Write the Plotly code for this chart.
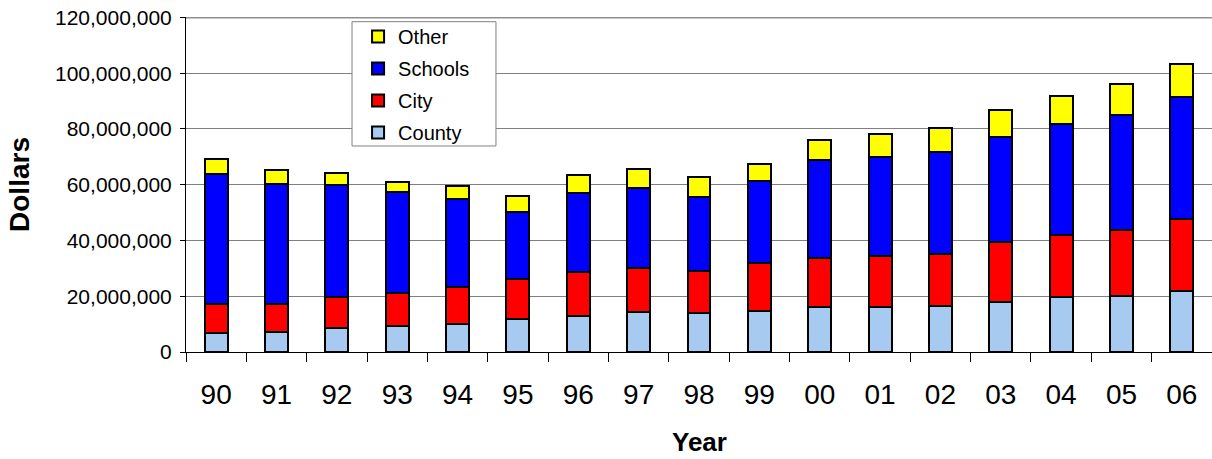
import plotly.graph_objects as go

years = ["90", "91", "92", "93", "94", "95", "96", "97", "98", "99",
         "00", "01", "02", "03", "04", "05", "06"]
county = [6.7, 7.3, 8.5, 9.3, 10.0, 11.8, 12.9, 14.4, 13.9, 14.8,
          16.1, 16.1, 16.6, 18.1, 19.6, 20.2, 22.0]
city = [10.4, 9.9, 11.1, 11.7, 13.4, 14.3, 15.9, 15.8, 15.1, 17.0,
        17.7, 18.3, 18.7, 21.4, 22.2, 23.6, 25.6]
schools = [46.9, 43.0, 40.4, 36.4, 31.4, 24.0, 28.3, 28.7, 26.6, 29.4,
           34.9, 35.5, 36.5, 37.6, 39.8, 41.3, 43.9]
other = [5.1, 5.0, 4.3, 3.6, 4.8, 5.9, 6.5, 6.8, 7.1, 6.4,
         7.3, 8.3, 8.5, 9.6, 10.1, 10.9, 11.9]
y_ticks = [0, 20e6, 40e6, 60e6, 80e6, 100e6, 120e6]

series = [
    ("County", county, "#A6CAF0", 4),
    ("City", city, "#FF0000", 3),
    ("Schools", schools, "#0000FF", 2),
    ("Other", other, "#FFFF00", 1),
]

fig = go.Figure()
for name, vals, color, rank in series:
    fig.add_trace(go.Bar(
        x=years, y=[v * 1e6 for v in vals], name=name, legendgroup=name,
        legendrank=rank,
        marker=dict(color=color, line=dict(color="black", width=2)),
    ))

# top gridline (Plotly drops the grid line at the range edge)
fig.add_shape(type="line", xref="paper", yref="y",
              x0=0, x1=1, y0=y_ticks[-1], y1=y_ticks[-1],
              line=dict(color="#909090", width=2), layer="below")

# legend frame (wider than Plotly's auto-sized legend box)
fig.add_shape(type="rect", xref="paper", yref="paper",
              x0=0.1618, x1=0.3021, y0=0.615, y1=0.986,
              line=dict(color="#808080", width=1), fillcolor="white",
              layer="above")

# x-axis title placed below the tick labels
fig.add_annotation(text="<b>Year</b>", xref="paper", yref="paper",
                   x=0.5, y=-0.2687, xanchor="center", yanchor="middle",
                   showarrow=False, font=dict(size=26))

fig.update_layout(
    barmode="stack",
    bargap=0.62,
    width=1212, height=459,
    margin=dict(l=186, r=0, t=17, b=107, autoexpand=False),
    paper_bgcolor="white", plot_bgcolor="white",
    font=dict(family="Arial, Liberation Sans, sans-serif", color="black"),
    showlegend=True,
    legend=dict(
        x=0.1677, y=1.0, xanchor="left", yanchor="top",
        traceorder="grouped", tracegroupgap=3,
        borderwidth=0, bgcolor="rgba(0,0,0,0)",
        font=dict(size=20), itemwidth=30,
    ),
)
fig.update_yaxes(
    automargin=False,
    range=[0, 120.15e6], tickvals=y_ticks,
    tickformat=",", ticklabeloverflow="allow",
    showgrid=True, gridcolor="#808080", gridwidth=1,
    showline=True, linecolor="black", linewidth=1,
    ticks="outside", ticklen=5, tickcolor="black",
    tickfont=dict(size=21), ticklabelstandoff=4,
    zeroline=False,
    title=dict(text="<b>Dollars</b>", font=dict(size=28), standoff=17),
)
fig.update_xaxes(
    automargin=False,
    showline=True, linecolor="black", linewidth=1,
    ticks="outside", tickson="boundaries", ticklen=9, tickcolor="black",
    tickfont=dict(size=28), ticklabelstandoff=17,
)

fig.write_html("out.html",
               config={"displayModeBar": False},
               post_script="document.body.style.margin='0';")
